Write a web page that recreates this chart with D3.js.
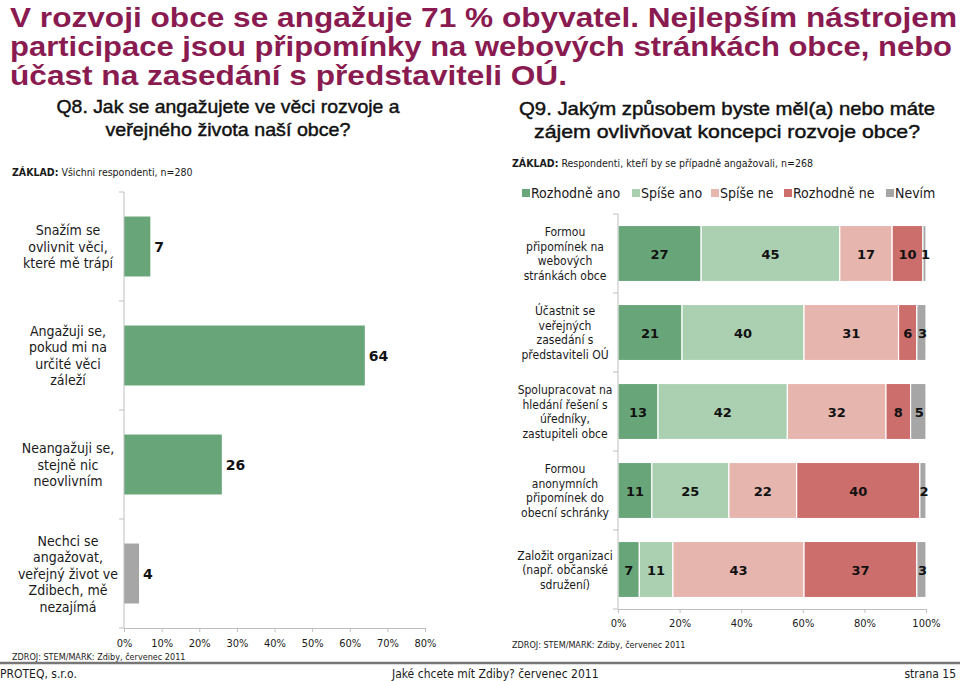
<!DOCTYPE html>
<html><head><meta charset="utf-8">
<script src="https://cdn.jsdelivr.net/npm/d3@7/dist/d3.min.js"></script>
<style>
body{margin:0;background:#fff;}
svg{display:block;}
text{font-family:"DejaVu Sans",Verdana,sans-serif;}
.cond{font-family:"DejaVu Sans Condensed","DejaVu Sans",Verdana,sans-serif;}
</style></head>
<body>
<script>
// ---- DATA ----
const titleLines = ["V rozvoji obce se angažuje 71 % obyvatel. Nejlepším nástrojem",
  "participace jsou připomínky na webových stránkách obce, nebo",
  "účast na zasedání s představiteli OÚ."];
const q8Lines = ["Q8. Jak se angažujete ve věci rozvoje a", "veřejného života naší obce?"];
const q9Lines = ["Q9. Jakým způsobem byste měl(a) nebo máte", "zájem ovlivňovat koncepci rozvoje obce?"];

const leftCategories = [
  ["Snažím se", "ovlivnit věci,", "které mě trápí"],
  ["Angažuji se,", "pokud mi na", "určité věci", "záleží"],
  ["Neangažuji se,", "stejně nic", "neovlivním"],
  ["Nechci se", "angažovat,", "veřejný život ve", "Zdibech, mě", "nezajímá"]
];
const leftValues = [7, 64, 26, 4];
const leftTicks = [0, 10, 20, 30, 40, 50, 60, 70, 80];

const rightCategories = [
  ["Formou", "připomínek na", "webových", "stránkách obce"],
  ["Účastnit se", "veřejných", "zasedání s", "představiteli OÚ"],
  ["Spolupracovat na", "hledání řešení s", "úředníky,", "zastupiteli obce"],
  ["Formou", "anonymních", "připomínek do", "obecní schránky"],
  ["Založit organizaci", "(např. občanské", "sdružení)"]
];
const seriesNames = ["Rozhodně ano", "Spíše ano", "Spíše ne", "Rozhodně ne", "Nevím"];
const rozhodneAno = [27, 21, 13, 11, 7];
const spiseAno    = [45, 40, 42, 25, 11];
const spiseNe     = [17, 31, 32, 22, 43];
const rozhodneNe  = [10, 6, 8, 40, 37];
const nevim       = [1, 3, 5, 2, 3];
const rightTicks = [0, 20, 40, 60, 80, 100];

// ---- DRAW ----
const W = 960, H = 681;
const svg = d3.select("body").append("svg").attr("width", W).attr("height", H);
const colors = ["#68a679", "#abd0b1", "#e6b5ae", "#cc6e6c", "#a6a6a6"];
const axisCol = "#bfbfbf";

// Title
const title = svg.append("g");
const tnodes = titleLines.map((t, i) =>
  title.append("text").attr("x", 10).attr("y", 27 + i * 29)
    .style("font-family", "'Liberation Sans',Arial,sans-serif")
    .attr("font-weight", "bold").attr("font-size", 28).attr("fill", "#8a1b51").text(t));
const nat0 = tnodes[0].node().getComputedTextLength();
const k = 947 / nat0;
tnodes.forEach(n => {
  n.attr("textLength", n.node().getComputedTextLength() * k).attr("lengthAdjust", "spacingAndGlyphs");
});
tnodes[1].attr("textLength", 942);

function qBlock(lines, cx, y0, widths) {
  lines.forEach((t, i) => {
    svg.append("text").attr("x", cx).attr("y", y0 + i * 23).attr("text-anchor", "middle")
      .style("font-family", "'Liberation Sans',Arial,sans-serif")
      .attr("font-size", 19).attr("fill", "#111").attr("stroke", "#111").attr("stroke-width", 0.45)
      .attr("textLength", widths[i]).attr("lengthAdjust", "spacingAndGlyphs").text(t);
  });
}
qBlock(q8Lines, 228, 113, [343, 245]);
qBlock(q9Lines, 727, 115, [416, 386]);

function zaklad(x, y, rest) {
  const t = svg.append("text").attr("class", "cond").attr("x", x).attr("y", y).attr("font-size", 10.5).attr("fill", "#1a1a1a");
  t.append("tspan").attr("font-weight", "bold").text("ZÁKLAD:");
  t.append("tspan").text(" " + rest);
}
zaklad(12, 176, "Všichni respondenti, n=280");
zaklad(512, 167, "Respondenti, kteří by se případně angažovali, n=268");

// ---- LEFT CHART ----
const lx = d3.scaleLinear().domain([0, 80]).range([124, 425]);
const ly = d3.scaleBand().domain(d3.range(leftValues.length)).range([192, 628]).paddingInner(0.45).paddingOuter(0.225);
const L = svg.append("g");
L.selectAll("rect").data(leftValues).join("rect")
  .attr("x", lx(0)).attr("y", (d, i) => ly(i)).attr("height", ly.bandwidth())
  .attr("width", d => lx(d) - lx(0))
  .attr("fill", (d, i) => i === leftValues.length - 1 ? colors[4] : colors[0]);
L.selectAll("text.val").data(leftValues).join("text").attr("class", "val")
  .attr("x", d => lx(d) + 4).attr("y", (d, i) => ly(i) + ly.bandwidth() / 2 + 5)
  .attr("font-size", 14).attr("font-weight", "bold").attr("fill", "#111").text(d => d);
L.append("line").attr("x1", 124).attr("x2", 124).attr("y1", 192).attr("y2", 628).attr("stroke", axisCol);
const lStep = (628 - 192) / leftValues.length;
d3.range(leftValues.length + 1).forEach(i => {
  L.append("line").attr("x1", 119).attr("x2", 124).attr("y1", 192 + i * lStep).attr("y2", 192 + i * lStep).attr("stroke", axisCol);
});
leftCategories.forEach((lines, i) => {
  const cy = ly(i) + ly.bandwidth() / 2;
  const lh = 16.5;
  lines.forEach((t, j) => {
    L.append("text").attr("class", "cond").attr("x", 68).attr("y", cy + (j - (lines.length - 1) / 2) * lh + 5)
      .attr("text-anchor", "middle").attr("font-size", 14).attr("fill", "#1a1a1a").text(t);
  });
});
const lax = L.append("g").attr("transform", "translate(0,628)")
  .call(d3.axisBottom(lx).tickValues(leftTicks).tickFormat(d => d + "%").tickSize(4).tickPadding(7));
lax.select(".domain").attr("stroke", axisCol);
lax.selectAll(".tick line").attr("stroke", axisCol);
lax.selectAll("text").attr("font-size", 11).attr("fill", "#1a1a1a").style("font-family", "'DejaVu Sans Condensed','DejaVu Sans',Verdana,sans-serif");

// ---- RIGHT CHART ----
const rows = rightCategories.map((c, i) => ({
  i, "Rozhodně ano": rozhodneAno[i], "Spíše ano": spiseAno[i], "Spíše ne": spiseNe[i],
  "Rozhodně ne": rozhodneNe[i], "Nevím": nevim[i]
}));
const stack = d3.stack().keys(seriesNames).offset(d3.stackOffsetExpand)(rows);
const rx = d3.scaleLinear().domain([0, 1]).range([618, 926]);
const ry = d3.scaleBand().domain(d3.range(rows.length)).range([214, 609]).paddingInner(0.29).paddingOuter(0.145);
const R = svg.append("g");
stack.forEach((s, kk) => {
  const g = R.append("g");
  g.selectAll("rect").data(s).join("rect")
    .attr("x", d => rx(d[0])).attr("y", d => ry(d.data.i))
    .attr("width", d => Math.max(0, rx(d[1]) - rx(d[0]))).attr("height", ry.bandwidth())
    .attr("fill", colors[kk]).attr("stroke", "#fff").attr("stroke-width", 1.2);
  g.selectAll("text").data(s).join("text")
    .attr("x", d => (rx(d[0]) + rx(d[1])) / 2 + (kk === 4 ? 1 : 0)).attr("y", d => ry(d.data.i) + ry.bandwidth() / 2 + 5)
    .attr("text-anchor", "middle").attr("font-size", 13).attr("font-weight", "bold").attr("fill", "#111")
    .text(d => d.data[s.key]);
});
R.append("line").attr("x1", 618).attr("x2", 618).attr("y1", 214).attr("y2", 609).attr("stroke", axisCol);
const rStep = (609 - 214) / rows.length;
d3.range(rows.length + 1).forEach(i => {
  R.append("line").attr("x1", 613).attr("x2", 618).attr("y1", 214 + i * rStep).attr("y2", 214 + i * rStep).attr("stroke", axisCol);
});
rightCategories.forEach((lines, i) => {
  const cy = ry(i) + ry.bandwidth() / 2;
  const lh = 14.5;
  lines.forEach((t, j) => {
    R.append("text").attr("class", "cond").attr("x", 565).attr("y", cy + (j - (lines.length - 1) / 2) * lh + 4.5)
      .attr("text-anchor", "middle").attr("font-size", 12).attr("fill", "#1a1a1a").text(t);
  });
});
const rax = R.append("g").attr("transform", "translate(0,609)")
  .call(d3.axisBottom(rx).tickValues(rightTicks.map(v => v / 100)).tickFormat(d => Math.round(d * 100) + "%").tickSize(4).tickPadding(6));
rax.select(".domain").attr("stroke", axisCol);
rax.selectAll(".tick line").attr("stroke", axisCol);
rax.selectAll("text").attr("font-size", 11).attr("fill", "#1a1a1a").style("font-family", "'DejaVu Sans Condensed','DejaVu Sans',Verdana,sans-serif");

// Legend
const legX = [522, 632, 711, 784, 886];
seriesNames.forEach((n, kk) => {
  svg.append("rect").attr("x", legX[kk]).attr("y", 189).attr("width", 8).attr("height", 8).attr("fill", colors[kk]);
  svg.append("text").attr("class", "cond").attr("x", legX[kk] + 9).attr("y", 198).attr("font-size", 14).attr("fill", "#1a1a1a").text(n);
});

// Sources
svg.append("text").attr("class", "cond").attr("x", 12).attr("y", 660).attr("font-size", 9).attr("fill", "#1a1a1a").text("ZDROJ: STEM/MARK: Zdiby, červenec 2011");
svg.append("text").attr("class", "cond").attr("x", 512).attr("y", 648).attr("font-size", 9).attr("fill", "#1a1a1a").text("ZDROJ: STEM/MARK: Zdiby, červenec 2011");

// Footer
svg.append("line").attr("x1", 0).attr("x2", 960).attr("y1", 663).attr("y2", 663).attr("stroke", "#777").attr("stroke-width", 2.5);
svg.append("text").attr("class", "cond").attr("x", 0).attr("y", 678).attr("font-size", 12).attr("fill", "#1a1a1a").text("PROTEQ, s.r.o.");
svg.append("text").attr("class", "cond").attr("x", 392).attr("y", 678).attr("font-size", 12).attr("fill", "#1a1a1a").text("Jaké chcete mít Zdiby? červenec 2011");
svg.append("text").attr("class", "cond").attr("x", 956).attr("y", 678).attr("text-anchor", "end").attr("font-size", 12).attr("fill", "#1a1a1a").text("strana 15");
</script>
</body></html>
